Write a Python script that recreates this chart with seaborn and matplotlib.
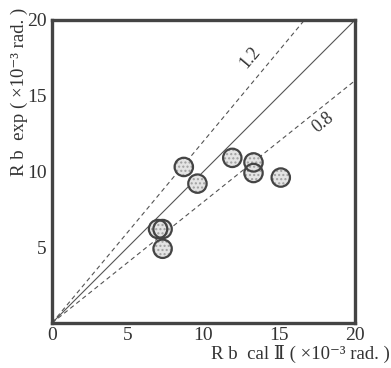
import matplotlib
matplotlib.use("Agg")
import matplotlib.pyplot as plt
import seaborn as sns
import numpy as np
import pandas as pd

# data
rb_cal = [8.7, 9.6, 7.0, 7.3, 7.3, 11.9, 13.3, 13.3, 15.1]
rb_exp = [10.3, 9.2, 6.2, 6.2, 4.9, 10.9, 10.6, 9.9, 9.6]
ratios = [1.2, 1.0, 0.8]
ratio_labels = ["1.2", "", "0.8"]
ticks = [0, 5, 10, 15, 20]

sns.set_theme(style="white")
plt.rcParams['font.family'] = ['Liberation Serif', 'DejaVu Serif']

fig = plt.figure(figsize=(3.91, 3.68), dpi=100)
ax = fig.add_axes([52/391, 45/368, 303/391, 303/368])

xs = np.array([0, 20])
for r in ratios:
    ls = '-' if r == 1.0 else (0, (4, 3))
    ax.plot(xs, r * xs, color='#555555', lw=0.8, ls=ls, zorder=1)

df = pd.DataFrame({"cal": rb_cal, "exp": rb_exp})
# dotted fill
sns.scatterplot(data=df, x="cal", y="exp", ax=ax, s=175, color='#e4e4e4',
                edgecolor='#a0a0a0', linewidth=0, zorder=3, legend=False)
ax.collections[-1].set_hatch('....')
# outline
sns.scatterplot(data=df, x="cal", y="exp", ax=ax, s=175, facecolor='none',
                edgecolor='#444444', linewidth=1.6, zorder=4, legend=False)

ax.text(13.1, 17.5, ratio_labels[0], rotation=50, ha='center', va='center',
        fontsize=13, color='#333333')
ax.text(17.9, 13.2, ratio_labels[2], rotation=39, ha='center', va='center',
        fontsize=13, color='#333333')

ax.set_xlim(0, 20)
ax.set_ylim(0, 20)
ax.set_xticks(ticks)
ax.set_yticks(ticks)
ax.set_xticklabels([str(t) for t in ticks])
ax.set_yticklabels(['' if t == 0 else str(t) for t in ticks])
ax.tick_params(direction='in', length=5, width=1.2, color='#444444',
               labelsize=14, labelcolor='#333333', pad=4)
ax.tick_params(axis='x', pad=3)
for s in ax.spines.values():
    s.set_linewidth(2.4)
    s.set_color('#444444')

ax.set_xlabel("")
ax.set_ylabel("")
fig.text(390/391, 5/368, "R b  cal Ⅱ ( ×10⁻³ rad. )", ha='right', va='bottom',
         fontsize=13.5, color='#333333')
fig.text(19/391, 1 - 8/368, "R b  exp ( ×10⁻³ rad. )", ha='center', va='top',
         rotation=90, fontsize=13.5, color='#333333')

fig.savefig("out.png", dpi=100)
